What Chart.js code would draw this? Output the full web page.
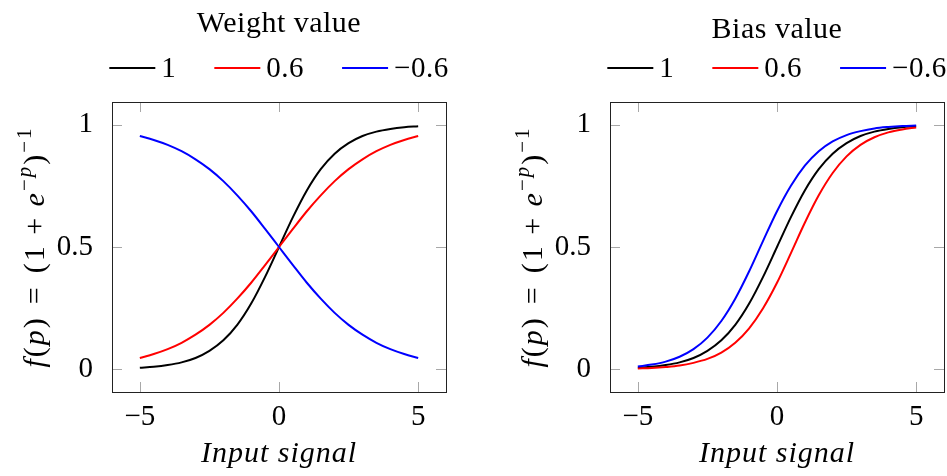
<!DOCTYPE html>
<html>
<head>
<meta charset="utf-8">
<script src="https://cdn.jsdelivr.net/npm/chart.js@4.4.1/dist/chart.umd.min.js"></script>
<style>
  html, body { margin: 0; padding: 0; background: #fff; }
  #wrap { position: relative; width: 947px; height: 476px; }
  canvas { position: absolute; top: 0; }
  #weightChart { left: 0; }
  #biasChart { left: 498px; }
</style>
</head>
<body>
<div id="wrap">
  <canvas id="weightChart" width="449" height="476"></canvas>
  <canvas id="biasChart" width="449" height="476"></canvas>
</div>
<script>
// sample positions along the input axis
const inputSignal = [-5, -4.5, -4, -3.5, -3, -2.5, -2, -1.5, -1, -0.5, 0, 0.5, 1, 1.5, 2, 2.5, 3, 3.5, 4, 4.5, 5];

// left panel: output for each weight
const weightOne = [0.007, 0.011, 0.018, 0.029, 0.047, 0.076, 0.119, 0.182, 0.269, 0.378, 0.5, 0.622, 0.731, 0.818, 0.881, 0.924, 0.953, 0.971, 0.982, 0.989, 0.993];
const weightPos = [0.047, 0.063, 0.083, 0.109, 0.142, 0.182, 0.231, 0.289, 0.354, 0.426, 0.5, 0.574, 0.646, 0.711, 0.769, 0.818, 0.858, 0.891, 0.917, 0.937, 0.953];
const weightNeg = [0.953, 0.937, 0.917, 0.891, 0.858, 0.818, 0.769, 0.711, 0.646, 0.574, 0.5, 0.426, 0.354, 0.289, 0.231, 0.182, 0.142, 0.109, 0.083, 0.063, 0.047];

// right panel: output for each bias
const biasOne = [0.007, 0.011, 0.018, 0.029, 0.047, 0.076, 0.119, 0.182, 0.269, 0.378, 0.5, 0.622, 0.731, 0.818, 0.881, 0.924, 0.953, 0.971, 0.982, 0.989, 0.993];
const biasPos = [0.004, 0.006, 0.010, 0.016, 0.027, 0.043, 0.069, 0.109, 0.168, 0.250, 0.354, 0.475, 0.599, 0.711, 0.802, 0.870, 0.917, 0.948, 0.968, 0.980, 0.988];
const biasNeg = [0.012, 0.020, 0.032, 0.052, 0.083, 0.130, 0.198, 0.289, 0.401, 0.525, 0.646, 0.750, 0.832, 0.891, 0.931, 0.957, 0.973, 0.984, 0.990, 0.994, 0.996];

const seriesLabels = ['1', '0.6', '\u22120.6'];
const seriesColors = ['#000000', '#ff0000', '#0000ff'];
const xTicks = [-5, 0, 5];
const yTicks = [0, 0.5, 1];

const SERIF = '"Liberation Serif", "Times New Roman", serif';
const TICK_FONT = 29;
const TICK_LEN = 10;

// rotated y label, pieces with italics and superscripts
const yLabelParts = [
  { t: 'f', it: true }, { t: '(' }, { t: 'p', it: true }, { t: ')\u2004=\u2004(1\u2005+\u2005' },
  { t: 'e', it: true }, { t: '\u2212', sup: true }, { t: 'p', it: true, sup: true },
  { t: ')' }, { t: '\u22121', sup: true }
];

function partFont(p) {
  const size = p.sup ? 21 : 30;
  return (p.it ? 'italic ' : '') + size + 'px ' + SERIF;
}

function fmtTick(v) {
  return v < 0 ? '\u2212' + Math.abs(v) : String(v);
}

const decorations = {
  id: 'decorations',
  beforeDatasetsDraw(chart) {
    const { ctx, chartArea: a, scales: { x, y } } = chart;
    ctx.save();
    ctx.strokeStyle = '#a8a8a8';
    ctx.lineWidth = 1;
    ctx.beginPath();
    xTicks.forEach(v => {
      const px = Math.round(x.getPixelForValue(v)) + 0.5;
      ctx.moveTo(px, a.bottom); ctx.lineTo(px, a.bottom - TICK_LEN);
      ctx.moveTo(px, a.top); ctx.lineTo(px, a.top + TICK_LEN);
    });
    yTicks.forEach(v => {
      const py = Math.round(y.getPixelForValue(v)) + 0.5;
      ctx.moveTo(a.left, py); ctx.lineTo(a.left + TICK_LEN, py);
      ctx.moveTo(a.right, py); ctx.lineTo(a.right - TICK_LEN, py);
    });
    ctx.stroke();
    ctx.restore();
  },
  afterDraw(chart, args, opts) {
    const { ctx, chartArea: a } = chart;
    const cx = (a.left + a.right) / 2;
    ctx.save();

    // plot frame
    ctx.strokeStyle = '#222';
    ctx.lineWidth = 1;
    ctx.strokeRect(Math.round(a.left) + 0.5, Math.round(a.top) + 0.5,
      Math.round(a.right - a.left), Math.round(a.bottom - a.top));

    ctx.fillStyle = '#000';
    ctx.textBaseline = 'alphabetic';

    // legend title, its box bottom sits at a fixed line
    ctx.font = '30px ' + SERIF;
    ctx.letterSpacing = '0.5px';
    ctx.textAlign = 'center';
    const tm = ctx.measureText(opts.title);
    ctx.fillText(opts.title, cx, 38 - tm.actualBoundingBoxDescent);

    // legend entries
    ctx.font = '29px ' + SERIF;
    ctx.letterSpacing = '0.5px';
    ctx.textAlign = 'left';
    const items = chart.data.datasets.map(ds => ({
      label: ds.label, color: ds.borderColor, w: ctx.measureText(ds.label).width
    }));
    const lineLen = 46, lineGap = 6, itemGap = 38;
    const total = items.reduce((s, it) => s + lineLen + lineGap + it.w, 0) + itemGap * (items.length - 1);
    let lx = cx - total / 2;
    items.forEach(it => {
      ctx.strokeStyle = it.color;
      ctx.lineWidth = 2;
      ctx.beginPath();
      ctx.moveTo(lx, 68);
      ctx.lineTo(lx + lineLen, 68);
      ctx.stroke();
      ctx.fillText(it.label, lx + lineLen + lineGap, 77);
      lx += lineLen + lineGap + it.w + itemGap;
    });

    // x axis title
    ctx.font = 'italic 30px ' + SERIF;
    ctx.letterSpacing = '1px';
    ctx.textAlign = 'center';
    ctx.fillText('Input signal', cx, 462);

    // y axis title, rotated
    ctx.translate(44, (a.top + a.bottom) / 2);
    ctx.rotate(-Math.PI / 2);
    ctx.textAlign = 'left';
    ctx.letterSpacing = '2px';
    const widths = yLabelParts.map(p => { ctx.font = partFont(p); return ctx.measureText(p.t).width; });
    let tx = -widths.reduce((s, w) => s + w, 0) / 2;
    yLabelParts.forEach((p, i) => {
      ctx.font = partFont(p);
      ctx.fillText(p.t, tx, p.sup ? -13 : 0);
      tx += widths[i];
    });
    ctx.letterSpacing = '0px';
    ctx.restore();
  }
};

function makeChart(id, title, series) {
  return new Chart(document.getElementById(id), {
    type: 'line',
    data: {
      datasets: series.map((ys, i) => ({
        label: seriesLabels[i],
        data: inputSignal.map((x, k) => ({ x, y: ys[k] })),
        borderColor: seriesColors[i],
        borderWidth: 2,
        pointRadius: 0,
        cubicInterpolationMode: 'monotone',
        order: series.length - i
      }))
    },
    options: {
      responsive: false,
      animation: false,
      devicePixelRatio: 1,
      layout: { padding: { top: 102, right: 3, bottom: 0, left: 0 } },
      plugins: {
        legend: { display: false },
        tooltip: { enabled: false },
        decorations: { title }
      },
      scales: {
        x: {
          type: 'linear',
          min: -6,
          max: 6,
          grid: { display: false },
          border: { display: false },
          afterBuildTicks: s => { s.ticks = xTicks.map(value => ({ value })); },
          afterFit: s => { s.height = 84; },
          ticks: {
            padding: 0,
            color: '#000',
            font: { family: SERIF, size: TICK_FONT },
            callback: fmtTick
          }
        },
        y: {
          min: -0.092,
          max: 1.092,
          grid: { display: false },
          border: { display: false },
          afterBuildTicks: s => { s.ticks = yTicks.map(value => ({ value })); },
          afterFit: s => { s.width = 112; },
          ticks: {
            padding: 11,
            color: '#000',
            font: { family: SERIF, size: TICK_FONT },
            callback: fmtTick
          }
        }
      }
    },
    plugins: [decorations]
  });
}

makeChart('weightChart', 'Weight value', [weightOne, weightPos, weightNeg]);
makeChart('biasChart', 'Bias value', [biasOne, biasPos, biasNeg]);
</script>
</body>
</html>
